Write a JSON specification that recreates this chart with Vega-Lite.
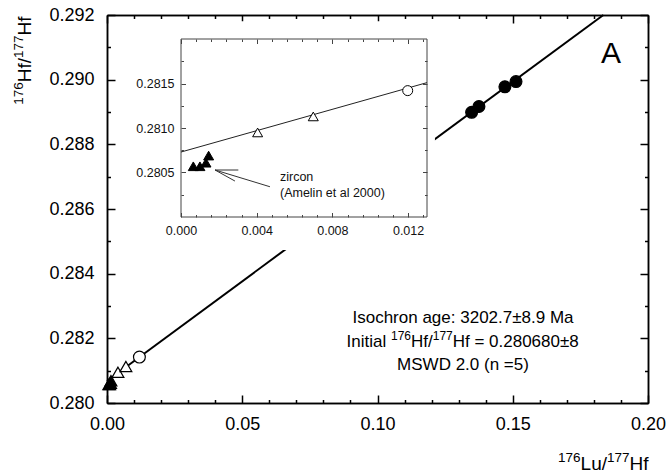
{
  "$schema": "https://vega.github.io/schema/vega-lite/v6.json",
  "autosize": {"type": "none"},
  "padding": {"left": 107, "top": 15, "right": 20, "bottom": 71},
  "width": 541,
  "height": 388,
  "background": "white",
  "datasets": {
    "pts": [
      {"x": 0.00065, "y": 0.28057, "g": "zircon"},
      {"x": 0.0010, "y": 0.28057, "g": "zircon"},
      {"x": 0.00132, "y": 0.28061, "g": "zircon"},
      {"x": 0.00146, "y": 0.28069, "g": "zircon"},
      {"x": 0.00405, "y": 0.28095, "g": "whole rock"},
      {"x": 0.00699, "y": 0.28113, "g": "whole rock"},
      {"x": 0.01198, "y": 0.28142, "g": "plagioclase"},
      {"x": 0.1348, "y": 0.28899, "g": "garnet"},
      {"x": 0.1375, "y": 0.28917, "g": "garnet"},
      {"x": 0.1471, "y": 0.28978, "g": "garnet"},
      {"x": 0.1512, "y": 0.28994, "g": "garnet"}
    ]
  },
  "layer": [
    {
      "data": {"values": [{"x": 0, "y": 0.28068}, {"x": 0.1835, "y": 0.292}]},
      "mark": {"type": "line", "color": "black", "strokeWidth": 2},
      "encoding": {
        "x": {"field": "x", "type": "quantitative", "scale": {"domain": [0, 0.2], "nice": false, "zero": false},
          "axis": {"orient": "bottom", "values": [0, 0.05, 0.1, 0.15, 0.2], "format": ".2f", "tickSize": -8, "labelPadding": 20,
            "title": "Lu/", "titleX": 473.1, "titleY": 66.5, "titleFontSize": 19, "titleAngle": 0, "titleAlign": "left", "titleBaseline": "alphabetic"}},
        "y": {"field": "y", "type": "quantitative", "scale": {"domain": [0.28, 0.292], "nice": false, "zero": false},
          "axis": {"orient": "left", "values": [0.28, 0.282, 0.284, 0.286, 0.288, 0.29, 0.292], "format": ".3f", "tickSize": -8, "labelPadding": 21,
            "title": "176", "titleX": -85, "titleY": 89.2, "titleFontSize": 13.5, "titleAngle": -90, "titleAlign": "left", "titleBaseline": "alphabetic"}}
      }
    },
    {
      "data": {"name": "pts"},
      "mark": {"type": "point", "filled": true, "stroke": "black", "strokeWidth": 1.2, "opacity": 1, "size": 140},
      "encoding": {
        "x": {"field": "x", "type": "quantitative", "scale": {"domain": [0, 0.2], "nice": false, "zero": false},
          "axis": {"orient": "bottom", "values": [0.01, 0.02, 0.03, 0.04, 0.06, 0.07, 0.08, 0.09, 0.11, 0.12, 0.13, 0.14, 0.16, 0.17, 0.18, 0.19], "labels": false, "tickSize": -3.5,
            "title": "176", "titleX": 450.6, "titleY": 58.5, "titleFontSize": 13.5, "titleAngle": 0, "titleAlign": "left", "titleBaseline": "alphabetic"}},
        "y": {"field": "y", "type": "quantitative", "scale": {"domain": [0.28, 0.292], "nice": false, "zero": false},
          "axis": {"orient": "left", "values": [0.281, 0.283, 0.285, 0.287, 0.289, 0.291], "labels": false, "tickSize": -3.5,
            "title": "Hf/", "titleX": -77, "titleY": 66.7, "titleFontSize": 19, "titleAngle": -90, "titleAlign": "left", "titleBaseline": "alphabetic"}},
        "shape": {"field": "g", "type": "nominal", "legend": null,
          "scale": {"domain": ["zircon", "whole rock", "plagioclase", "garnet"], "range": ["triangle-up", "triangle-up", "circle", "circle"]}},
        "fill": {"field": "g", "type": "nominal", "legend": null,
          "scale": {"domain": ["zircon", "whole rock", "plagioclase", "garnet"], "range": ["black", "white", "white", "black"]}}
      }
    },
    {
      "data": {"values": [
        {"x": 0.13161, "y": 0.282465, "t": "Isochron age: 3202.7±8.9 Ma"},
        {"x": 0.13161, "y": 0.28102, "t": "MSWD 2.0 (n =5)"}
      ]},
      "mark": {"type": "text", "align": "center", "baseline": "alphabetic", "fontSize": 17, "color": "black"},
      "encoding": {
        "x": {"field": "x", "type": "quantitative", "scale": {"domain": [0, 0.2], "nice": false, "zero": false},
          "axis": {"orient": "top", "values": [0, 0.05, 0.1, 0.15, 0.2], "labels": false, "tickSize": -8,
            "title": "Hf", "titleX": 522, "titleY": 454.5, "titleFontSize": 19, "titleAngle": 0, "titleAlign": "left", "titleBaseline": "alphabetic"}},
        "y": {"field": "y", "type": "quantitative", "scale": {"domain": [0.28, 0.292], "nice": false, "zero": false},
          "axis": {"orient": "right", "values": [0.28, 0.282, 0.284, 0.286, 0.288, 0.29, 0.292], "labels": false, "tickSize": -8,
            "title": "177", "titleX": -626, "titleY": 42.4, "titleFontSize": 13.5, "titleAngle": -90, "titleAlign": "left", "titleBaseline": "alphabetic"}},
        "text": {"field": "t"}
      }
    },
    {
      "data": {"values": [{"x": 0.08858, "y": 0.281732}]},
      "mark": {"type": "text", "align": "left", "baseline": "alphabetic", "fontSize": 17, "color": "black", "text": "Initial"},
      "encoding": {
        "x": {"field": "x", "type": "quantitative", "scale": {"domain": [0, 0.2], "nice": false, "zero": false},
          "axis": {"orient": "top", "values": [0.01, 0.02, 0.03, 0.04, 0.06, 0.07, 0.08, 0.09, 0.11, 0.12, 0.13, 0.14, 0.16, 0.17, 0.18, 0.19], "labels": false, "tickSize": -3.5,
            "title": "177", "titleX": 499.5, "titleY": 446.5, "titleFontSize": 13.5, "titleAngle": 0, "titleAlign": "left", "titleBaseline": "alphabetic"}},
        "y": {"field": "y", "type": "quantitative", "scale": {"domain": [0.28, 0.292], "nice": false, "zero": false},
          "axis": {"orient": "right", "values": [0.281, 0.283, 0.285, 0.287, 0.289, 0.291], "labels": false, "tickSize": -3.5,
            "title": "Hf", "titleX": -618, "titleY": 19.9, "titleFontSize": 19, "titleAngle": -90, "titleAlign": "left", "titleBaseline": "alphabetic"}}
      }
    },
    {
      "data": {"values": [{"x": 0.08858, "y": 0.281732}]},
      "mark": {"type": "text", "align": "left", "baseline": "alphabetic", "fontSize": 12, "color": "black", "text": "176", "dx": 44.4, "dy": -7},
      "encoding": {
        "x": {"field": "x", "type": "quantitative", "scale": {"domain": [0, 0.2], "nice": false, "zero": false}, "axis": null},
        "y": {"field": "y", "type": "quantitative", "scale": {"domain": [0.28, 0.292], "nice": false, "zero": false}, "axis": null}
      }
    },
    {
      "data": {"values": [{"x": 0.08858, "y": 0.281732}]},
      "mark": {"type": "text", "align": "left", "baseline": "alphabetic", "fontSize": 17, "color": "black", "text": "Hf/", "dx": 64.4},
      "encoding": {
        "x": {"field": "x", "type": "quantitative", "scale": {"domain": [0, 0.2], "nice": false, "zero": false}, "axis": null},
        "y": {"field": "y", "type": "quantitative", "scale": {"domain": [0.28, 0.292], "nice": false, "zero": false}, "axis": null}
      }
    },
    {
      "data": {"values": [{"x": 0.08858, "y": 0.281732}]},
      "mark": {"type": "text", "align": "left", "baseline": "alphabetic", "fontSize": 12, "color": "black", "text": "177", "dx": 86.1, "dy": -7},
      "encoding": {
        "x": {"field": "x", "type": "quantitative", "scale": {"domain": [0, 0.2], "nice": false, "zero": false}, "axis": null},
        "y": {"field": "y", "type": "quantitative", "scale": {"domain": [0.28, 0.292], "nice": false, "zero": false}, "axis": null}
      }
    },
    {
      "data": {"values": [{"x": 0.08858, "y": 0.281732}]},
      "mark": {"type": "text", "align": "left", "baseline": "alphabetic", "fontSize": 17, "color": "black", "text": "Hf = 0.280680±8", "dx": 106.1},
      "encoding": {
        "x": {"field": "x", "type": "quantitative", "scale": {"domain": [0, 0.2], "nice": false, "zero": false}, "axis": null},
        "y": {"field": "y", "type": "quantitative", "scale": {"domain": [0.28, 0.292], "nice": false, "zero": false}, "axis": null}
      }
    },
    {
      "data": {"values": [{"x": 0.18632, "y": 0.290515, "t": "A"}]},
      "mark": {"type": "text", "align": "center", "baseline": "alphabetic", "fontSize": 30, "color": "black"},
      "encoding": {
        "x": {"field": "x", "type": "quantitative", "scale": {"domain": [0, 0.2], "nice": false, "zero": false}, "axis": null},
        "y": {"field": "y", "type": "quantitative", "scale": {"domain": [0.28, 0.292], "nice": false, "zero": false}, "axis": null},
        "text": {"field": "t"}
      }
    },
    {
      "data": {"values": [{}]},
      "mark": {"type": "rect", "fill": "white", "strokeWidth": 0},
      "encoding": {
        "x": {"datum": -0.0025, "type": "quantitative", "scale": {"domain": [0, 0.013], "range": [74, 320], "nice": false, "zero": false}, "axis": null},
        "x2": {"datum": 0.01342},
        "y": {"datum": 0.27963, "type": "quantitative", "scale": {"domain": [0.28, 0.282], "range": [202, 24], "nice": false, "zero": false}, "axis": null},
        "y2": {"datum": 0.2822}
      }
    },
    {
      "data": {"values": [{}]},
      "mark": {"type": "rect", "fill": "white", "stroke": "#444", "strokeWidth": 1},
      "encoding": {
        "x": {"datum": 0, "type": "quantitative", "scale": {"domain": [0, 0.013], "range": [74, 320], "nice": false, "zero": false},
          "axis": {"orient": "bottom", "offset": -186, "zindex": 1, "domain": false, "values": [0, 0.004, 0.008, 0.012], "format": ".3f",
            "tickSize": -4.5, "tickWidth": 1, "tickColor": "#444", "labelPadding": 12, "labelFontSize": 12.5, "labelColor": "#111", "title": null}},
        "x2": {"datum": 0.013},
        "y": {"datum": 0.28, "type": "quantitative", "scale": {"domain": [0.28, 0.282], "range": [202, 24], "nice": false, "zero": false},
          "axis": {"orient": "left", "offset": -74, "zindex": 1, "domain": false, "values": [0.2805, 0.281, 0.2815], "format": ".4f",
            "tickSize": -4.5, "tickWidth": 1, "tickColor": "#444", "labelPadding": 11.5, "labelFontSize": 12.5, "labelColor": "#111", "title": null}},
        "y2": {"datum": 0.282}
      }
    },
    {
      "data": {"values": [{"x": 0, "y": 0.28073}, {"x": 0.013, "y": 0.28151}]},
      "mark": {"type": "line", "color": "#222", "strokeWidth": 1},
      "encoding": {
        "x": {"field": "x", "type": "quantitative", "scale": {"domain": [0, 0.013], "range": [74, 320], "nice": false, "zero": false},
          "axis": {"orient": "bottom", "offset": -186, "zindex": 1, "domain": false, "labels": false,
            "values": [0.0008, 0.0016, 0.0024, 0.0032, 0.0048, 0.0056, 0.0064, 0.0072, 0.0088, 0.0096, 0.0104, 0.0112, 0.0128],
            "tickSize": -2.5, "tickWidth": 1, "tickColor": "#444", "title": null}},
        "y": {"field": "y", "type": "quantitative", "scale": {"domain": [0.28, 0.282], "range": [202, 24], "nice": false, "zero": false},
          "axis": {"orient": "left", "offset": -74, "zindex": 1, "domain": false, "labels": false,
            "values": [0.28025, 0.28075, 0.28125, 0.28175], "tickSize": -2.5, "tickWidth": 1, "tickColor": "#444", "title": null}}
      }
    },
    {
      "data": {"name": "pts"},
      "transform": [{"filter": "datum.x < 0.013"}],
      "mark": {"type": "point", "filled": true, "stroke": "black", "strokeWidth": 1, "opacity": 1, "size": 100},
      "encoding": {
        "x": {"field": "x", "type": "quantitative", "scale": {"domain": [0, 0.013], "range": [74, 320], "nice": false, "zero": false},
          "axis": {"orient": "top", "offset": -24, "zindex": 1, "domain": false, "labels": false, "values": [0, 0.004, 0.008, 0.012],
            "tickSize": -4.5, "tickWidth": 1, "tickColor": "#444", "title": null}},
        "y": {"field": "y", "type": "quantitative", "scale": {"domain": [0.28, 0.282], "range": [202, 24], "nice": false, "zero": false},
          "axis": {"orient": "right", "offset": -221, "zindex": 1, "domain": false, "labels": false, "values": [0.2805, 0.281, 0.2815],
            "tickSize": -4.5, "tickWidth": 1, "tickColor": "#444", "title": null}},
        "shape": {"field": "g", "type": "nominal", "legend": null,
          "scale": {"domain": ["zircon", "whole rock", "plagioclase", "garnet"], "range": ["triangle-up", "triangle-up", "circle", "circle"]}},
        "fill": {"field": "g", "type": "nominal", "legend": null,
          "scale": {"domain": ["zircon", "whole rock", "plagioclase", "garnet"], "range": ["black", "white", "white", "black"]}}
      }
    },
    {
      "data": {"values": [
        {"x": 0.00523, "y": 0.280403, "t": "zircon"},
        {"x": 0.00523, "y": 0.280222, "t": "(Amelin et al 2000)"}
      ]},
      "mark": {"type": "text", "align": "left", "baseline": "alphabetic", "fontSize": 12.5, "color": "#111"},
      "encoding": {
        "x": {"field": "x", "type": "quantitative", "scale": {"domain": [0, 0.013], "range": [74, 320], "nice": false, "zero": false},
          "axis": {"orient": "top", "offset": -24, "zindex": 1, "domain": false, "labels": false,
            "values": [0.0008, 0.0016, 0.0024, 0.0032, 0.0048, 0.0056, 0.0064, 0.0072, 0.0088, 0.0096, 0.0104, 0.0112, 0.0128],
            "tickSize": -2.5, "tickWidth": 1, "tickColor": "#444", "title": null}},
        "y": {"field": "y", "type": "quantitative", "scale": {"domain": [0.28, 0.282], "range": [202, 24], "nice": false, "zero": false},
          "axis": {"orient": "right", "offset": -221, "zindex": 1, "domain": false, "labels": false,
            "values": [0.28025, 0.28075, 0.28125, 0.28175], "tickSize": -2.5, "tickWidth": 1, "tickColor": "#444", "title": null}},
        "text": {"field": "t"}
      }
    },
    {
      "data": {"values": [
        {"x": 0.0018, "y": 0.280528, "x2": 0.0047, "y2": 0.28034},
        {"x": 0.0018, "y": 0.280528, "x2": 0.00303, "y2": 0.280528},
        {"x": 0.0018, "y": 0.280528, "x2": 0.00285, "y2": 0.280404}
      ]},
      "mark": {"type": "rule", "color": "#333", "strokeWidth": 1},
      "encoding": {
        "x": {"field": "x", "type": "quantitative", "scale": {"domain": [0, 0.013], "range": [74, 320], "nice": false, "zero": false}, "axis": null},
        "x2": {"field": "x2"},
        "y": {"field": "y", "type": "quantitative", "scale": {"domain": [0.28, 0.282], "range": [202, 24], "nice": false, "zero": false}, "axis": null},
        "y2": {"field": "y2"}
      }
    }
  ],
  "resolve": {"scale": {"x": "independent", "y": "independent", "shape": "independent", "fill": "independent"}},
  "config": {
    "font": "Liberation Sans",
    "view": {"stroke": null},
    "axis": {
      "grid": false,
      "domainColor": "black",
      "domainWidth": 1.5,
      "tickColor": "black",
      "tickWidth": 1.5,
      "labelColor": "black",
      "labelFontSize": 18,
      "labelFlush": false,
      "labelOverlap": false,
      "titleColor": "black",
      "titleFontWeight": "normal"
    }
  }
}
